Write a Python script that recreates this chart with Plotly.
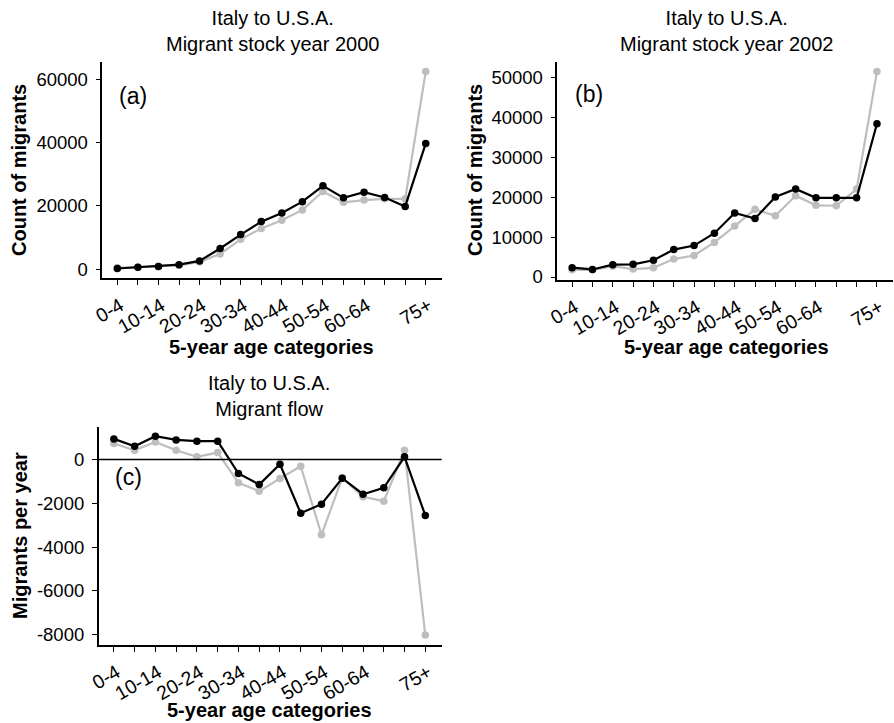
import plotly.graph_objects as go

W, H = 894, 723

age_categories = ["0-4", "5-9", "10-14", "15-19", "20-24", "25-29", "30-34", "35-39",
                  "40-44", "45-49", "50-54", "55-59", "60-64", "65-69", "70-74", "75+"]
tick_labels = ["0-4", "", "10-14", "", "20-24", "", "30-34", "", "40-44", "",
               "50-54", "", "60-64", "", "", "75+"]

stock2000_black = [200, 600, 800, 1400, 2600, 6500, 10900, 15000, 17700, 21300,
                   26300, 22500, 24300, 22600, 19800, 39700]
stock2000_grey = [400, 600, 900, 1200, 2300, 4800, 9400, 12800, 15400, 18700,
                  24500, 21100, 21800, 22200, 22200, 62400]

stock2002_black = [2350, 1900, 3100, 3200, 4200, 6900, 7900, 11000, 16100, 14700,
                   20100, 22100, 19900, 19900, 19900, 38500]
stock2002_grey = [1800, 1800, 2700, 2000, 2300, 4500, 5400, 8700, 12800, 17000,
                  15400, 20400, 18000, 17900, 22100, 51600]

flow_black = [943, 608, 1065, 897, 837, 837, -639, -1141, -213, -2449,
              -2038, -852, -1582, -1293, 122, -2555]
flow_grey = [730, 426, 806, 426, 122, 319, -1065, -1445, -867, -304,
             -3437, -837, -1703, -1901, 426, -8015]

y_ticks_a = [0, 20000, 40000, 60000]
y_ticks_b = [0, 10000, 20000, 30000, 40000, 50000]
y_ticks_c = [-8000, -6000, -4000, -2000, 0]

GREY = "#BEBEBE"
FONT = "Liberation Sans, Arial, sans-serif"

fig = go.Figure()

def px_x(p):
    return p / W

def px_y(p):
    return 1 - p / H

panels = [
    ("x", "y", stock2000_black, stock2000_grey, (102.3, 442), (61.7, 278.3), [-2900, 65500], y_ticks_a),
    ("x2", "y2", stock2002_black, stock2002_grey, (557.3, 893), (61.7, 280), [-750, 54090], y_ticks_b),
    ("x3", "y3", flow_black, flow_grey, (98.7, 441.7), (426.7, 645), [-8470, 1500], y_ticks_c),
]

for i, (xa, ya, blk, gry, xd, yd, yr, yt) in enumerate(panels):
    fig.add_trace(go.Scatter(x=age_categories, y=gry, mode="lines+markers",
                             line=dict(color=GREY, width=2.2), marker=dict(color=GREY, size=7.5),
                             xaxis=xa, yaxis=ya, showlegend=False, cliponaxis=False))
    fig.add_trace(go.Scatter(x=age_categories, y=blk, mode="lines+markers",
                             line=dict(color="black", width=2.2), marker=dict(color="black", size=7.5),
                             xaxis=xa, yaxis=ya, showlegend=False, cliponaxis=False))
    suffix = "" if i == 0 else str(i + 1)
    fig.layout["xaxis" + suffix] = dict(
        domain=[px_x(xd[0]), px_x(xd[1])], anchor=ya,
        type="category", categoryorder="array", categoryarray=age_categories,
        range=[-0.73, 15.79],
        tickmode="array", tickvals=age_categories, ticktext=tick_labels,
        tickangle=-30, ticks="outside", ticklen=5, tickwidth=1, tickcolor="black",
        ticklabelstandoff=2, ticklabelshift=3,
        showline=True, linecolor="black", linewidth=1.5, showgrid=False, zeroline=False,
        tickfont=dict(family=FONT, size=19.5, color="black"), fixedrange=True,
    )
    fig.layout["yaxis" + suffix] = dict(
        domain=[px_y(yd[1]), px_y(yd[0])], anchor=xa,
        range=yr, tickmode="array", tickvals=yt, ticktext=[str(v) for v in yt],
        ticks="outside", ticklen=5, tickwidth=1, tickcolor="black",
        ticklabelstandoff=4,
        showline=True, linecolor="black", linewidth=1.5, showgrid=False, zeroline=False,
        tickfont=dict(family=FONT, size=18.5, color="black"), fixedrange=True,
    )

fig.add_shape(type="line", xref="x3 domain", yref="y3", x0=0, x1=1, y0=0, y1=0,
              line=dict(color="black", width=1.5))

annots = []
titles = [
    ("Italy to U.S.A.<br>Migrant stock year 2000", 272, 31.5),
    ("Italy to U.S.A.<br>Migrant stock year 2002", 726, 31.5),
    ("Italy to U.S.A.<br>Migrant flow", 269, 396),
]
for t, x, y in titles:
    annots.append(dict(text=t, x=px_x(x), y=px_y(y), xref="paper", yref="paper",
                       showarrow=False, xanchor="center", yanchor="middle",
                       font=dict(family=FONT, size=20, color="black")))

ytitles = [("Count of migrants", 19, 170), ("Count of migrants", 475, 170),
           ("Migrants per year", 20, 536)]
for t, x, y in ytitles:
    annots.append(dict(text="<b>" + t + "</b>", x=px_x(x), y=px_y(y), xref="paper", yref="paper",
                       showarrow=False, xanchor="center", yanchor="middle", textangle=-90,
                       font=dict(family=FONT, size=20, color="black")))

xtitles = [(271, 346.5), (726, 346.5), (269, 710)]
for x, y in xtitles:
    annots.append(dict(text="<b>5-year age categories</b>", x=px_x(x), y=px_y(y),
                       xref="paper", yref="paper", showarrow=False,
                       xanchor="center", yanchor="middle",
                       font=dict(family=FONT, size=20, color="black")))

panel_labels = [("(a)", 132.7, 96), ("(b)", 589, 94), ("(c)", 128.3, 477.3)]
for t, x, y in panel_labels:
    annots.append(dict(text=t, x=px_x(x), y=px_y(y), xref="paper", yref="paper",
                       showarrow=False, xanchor="center", yanchor="middle",
                       font=dict(family=FONT, size=23, color="black")))

fig.update_layout(
    width=W, height=H, margin=dict(l=0, r=0, t=0, b=0, autoexpand=False),
    paper_bgcolor="white", plot_bgcolor="white",
    annotations=annots, showlegend=False,
)

fig.write_html("out.html", config={"displayModeBar": False})
